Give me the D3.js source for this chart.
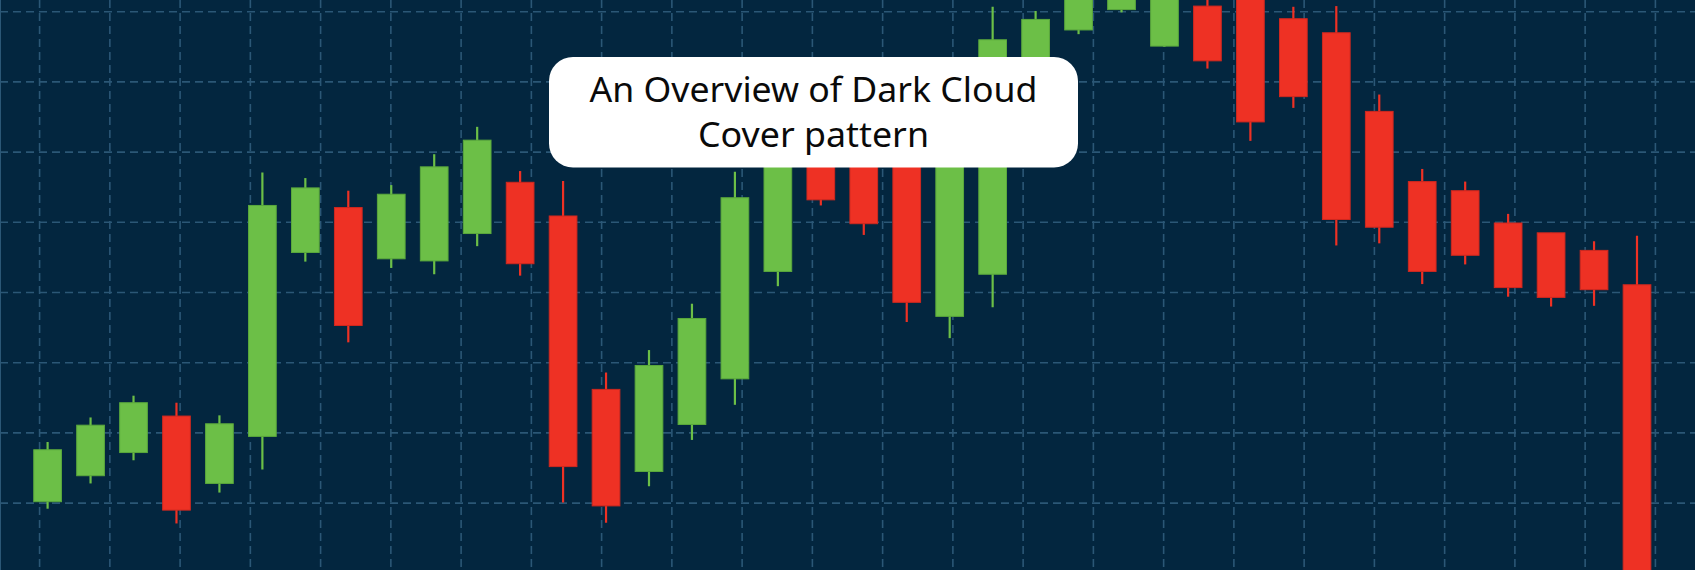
<!DOCTYPE html>
<html>
<head>
<meta charset="utf-8">
<script src="https://cdn.jsdelivr.net/npm/d3@7"></script>
<style>
  html, body { margin: 0; padding: 0; background: #03263f; overflow: hidden; }
  svg { display: block; }
</style>
</head>
<body>
<svg id="chart" width="1695" height="570"></svg>
<script>
// ---- data (price units; candles left to right) ----
const candleIndex = d3.range(38);
const opens  = [10.2,13.9,17.2,22.4,12.8,19.5,45.7,52.1,44.8,44.5,48.4,55.7,50.9,26.2,14.5,21.2,27.7,43.0,63.1,61.7,64.6,36.6,42.6,68.1,77.4,80.3,75.1,80.8,83.1,79.0,77.0,65.8,55.8,54.5,49.9,48.5,46.0,41.1];
const highs  = [18.7,22.2,25.3,24.3,22.5,57.1,56.3,54.5,55.3,59.7,63.6,57.3,55.9,28.6,31.8,38.4,57.2,62.4,64.9,63.4,66.7,68.1,80.7,80.1,85.2,88.0,86.0,82.1,84.5,80.7,80.8,68.2,57.6,55.8,51.2,48.5,47.3,48.1];
const lows   = [ 9.2,12.8,16.1, 7.1,11.5,14.8,44.4,32.9,43.5,42.6,46.6,42.4,10.1, 7.2,12.4,19.0,24.0,40.9,52.4,48.2,35.8,33.5,37.9,66.7,76.8,79.9,75.0,71.9,61.6,66.3,46.7,47.0,41.2,44.0,39.4,38.0,38.1,-8.0];
const closes = [17.6,21.1,24.3, 9.0,21.3,52.4,54.9,35.3,54.0,57.9,61.7,44.1,15.2, 9.6,29.6,36.3,53.5,60.3,53.2,49.8,38.6,66.0,76.0,78.9,83.8,86.5,84.5,73.0,64.3,67.9,50.4,49.3,43.0,45.3,40.7,39.3,40.4,-5.0];
const priceGrid = [10,20,30,40,50,60,70,80];
const gridColumns = d3.range(24);
const titleLines = ["An Overview of Dark Cloud", "Cover pattern"];

// ---- drawing ----
const W = 1695, H = 570;
const svg = d3.select("#chart");
const x = d3.scaleLinear().domain([0, 37]).range([47.6, 1637]);
const y = d3.scaleLinear().domain([0, 80]).range([573.3, 11.7]);
const gx = d3.scaleLinear().domain([0, 23]).range([39.6, 1655.4]);

svg.append("rect").attr("width", W).attr("height", H).attr("fill", "#03263f");

const gridColor = "#2b5776";
const grid = svg.append("g").attr("stroke", gridColor).attr("stroke-width", 1.6)
  .attr("stroke-dasharray", "8,5").attr("fill", "none");
grid.selectAll("line.h").data(priceGrid).join("line").attr("class", "h")
  .attr("x1", 0).attr("x2", W).attr("y1", d => y(d)).attr("y2", d => y(d));
grid.selectAll("line.v").data(gridColumns).join("line").attr("class", "v")
  .attr("x1", d => gx(d)).attr("x2", d => gx(d)).attr("y1", 0).attr("y2", H);
svg.append("line").attr("x1", 0.5).attr("x2", 0.5).attr("y1", 0).attr("y2", H)
  .attr("stroke", gridColor).attr("stroke-width", 1);

const data = candleIndex.map(i => ({i, o: opens[i], h: highs[i], l: lows[i], c: closes[i]}));
const green = "#6cbf47", greenEdge = "#5aa83c", red = "#ee3124", redEdge = "#cf281f";
const bw = 27.7;

const cg = svg.append("g");
const cs = cg.selectAll("g.candle").data(data).join("g").attr("class", "candle");
cs.append("line")
  .attr("x1", d => x(d.i)).attr("x2", d => x(d.i))
  .attr("y1", d => y(d.h)).attr("y2", d => y(d.l))
  .attr("stroke", d => d.c >= d.o ? green : red).attr("stroke-width", 2.2);
cs.append("rect")
  .attr("x", d => x(d.i) - bw / 2).attr("width", bw)
  .attr("y", d => y(Math.max(d.o, d.c)))
  .attr("height", d => Math.abs(y(d.o) - y(d.c)))
  .attr("fill", d => d.c >= d.o ? green : red)
  .attr("stroke", d => d.c >= d.o ? greenEdge : redEdge).attr("stroke-width", 1);

// ---- title box ----
const box = {x0: 549, x1: 1078, y0: 57, y1: 167.5};
svg.append("rect").attr("x", box.x0).attr("y", box.y0)
  .attr("width", box.x1 - box.x0).attr("height", box.y1 - box.y0)
  .attr("rx", 24).attr("ry", 24).attr("fill", "#ffffff");
const cx = (box.x0 + box.x1) / 2;
const lineWidths = [448, 231];
const baselines = [101.5, 146.5];
svg.selectAll("text.title").data(titleLines).join("text").attr("class", "title")
  .attr("x", cx).attr("y", (d, i) => baselines[i])
  .attr("text-anchor", "middle")
  .attr("font-family", "'Noto Sans', 'Open Sans', sans-serif")
  .attr("font-size", 34.5).attr("font-weight", 400).attr("fill", "#0a0a0a")
  .attr("textLength", (d, i) => lineWidths[i])
  .attr("lengthAdjust", "spacingAndGlyphs")
  .text(d => d);
</script>
</body>
</html>
